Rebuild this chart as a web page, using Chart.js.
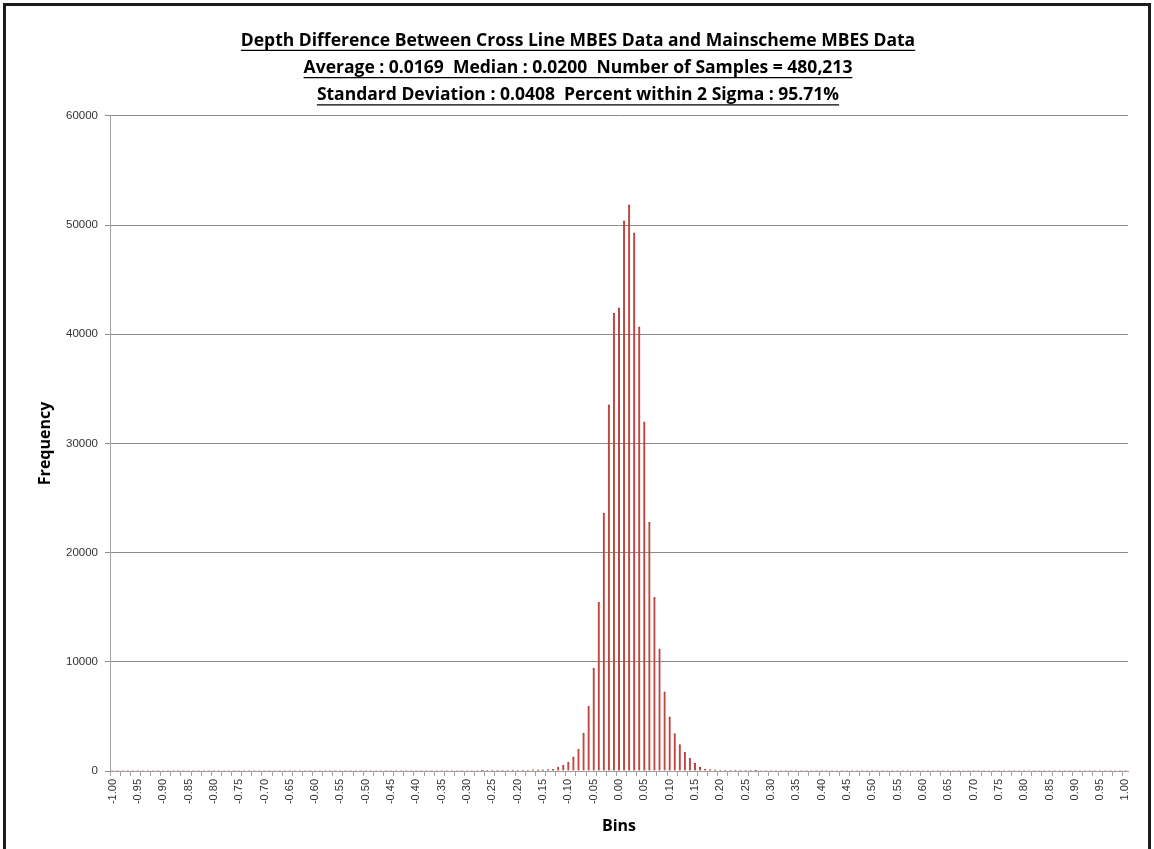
<!DOCTYPE html>
<html>
<head>
<meta charset="utf-8">
<script src="https://cdn.jsdelivr.net/npm/chart.js@4/dist/chart.umd.min.js"></script>
<style>
  html, body { margin: 0; padding: 0; background: #fff; overflow: hidden; }
  #wrap { position: absolute; left: 0; top: 0; width: 1154px; height: 849px; }
  #frame { position: absolute; left: 3px; top: 3px; width: 1142px; height: 900px;
           border: 3px solid #1c1c1c; pointer-events: none; }
</style>
</head>
<body>
<div id="wrap"><canvas id="histo" width="1154" height="849"></canvas></div>
<div id="frame"></div>
<script>
// title lines
var titleLines = [
    'Depth Difference Between Cross Line MBES Data and Mainscheme MBES Data',
    'Average : 0.0169  Median : 0.0200  Number of Samples = 480,213',
    'Standard Deviation : 0.0408  Percent within 2 Sigma : 95.71%'
];

// bins -1.00 .. 1.00, step 0.01
var bins = [];
for (var i = -100; i <= 100; i++) {
    bins.push((i / 100).toFixed(2));
}

// frequency per bin
var frequency = [
    0, 0, 0, 0, 0, 0, 0, 0, 0, 0, 0, 0, 0, 0, 0, 0, 0, 0, 0, 0,
    0, 0, 0, 0, 0, 0, 0, 0, 0, 0, 0, 0, 0, 0, 0, 0, 0, 0, 0, 0,
    0, 0, 0, 0, 0, 0, 0, 0, 0, 0, 0, 0, 0, 0, 0, 0, 0, 0, 0, 0,
    0, 0, 0, 0, 0, 0, 0, 0, 0, 0, 0, 0, 0,
    40, 60, 80, 70, 80, 70, 80, 90, 80, 90, 100, 110, 100, 120, 170,
    370, 550, 820, 1300, 2000, 3480, 5950, 9430, 15450, 23630, 33530, 41950,
    42410,
    50380, 51850, 49280, 40670, 31970, 22800, 15900, 11200, 7240, 4950, 3430,
    2420, 1700, 1150, 730, 370, 180, 120, 100, 90, 80, 90, 80, 70, 80, 60, 40,
    0, 0, 0, 0, 0, 0, 0, 0, 0, 0, 0, 0, 0, 0, 0, 0, 0, 0, 0, 0,
    0, 0, 0, 0, 0, 0, 0, 0, 0, 0, 0, 0, 0, 0, 0, 0, 0, 0, 0, 0,
    0, 0, 0, 0, 0, 0, 0, 0, 0, 0, 0, 0, 0, 0, 0, 0, 0, 0, 0, 0,
    0, 0, 0, 0, 0, 0, 0, 0, 0, 0, 0, 0, 0
];

var yTicks = [0, 10000, 20000, 30000, 40000, 50000, 60000];

var titleFont = { family: "'Open Sans', sans-serif", size: 17.5, weight: 'bold', lineHeight: 1.56 };

// draws the underline under every title line
var underline = {
    id: 'underline',
    afterDraw: function (chart) {
        var tb = chart.titleBlock;
        if (!tb) return;
        var ctx = chart.ctx;
        var lh = titleFont.size * titleFont.lineHeight;
        var cx = (tb.left + tb.right) / 2;
        ctx.save();
        ctx.font = 'bold ' + titleFont.size + 'px ' + titleFont.family;
        ctx.strokeStyle = '#000';
        ctx.lineWidth = 1.2;
        titleLines.forEach(function (t, k) {
            var w = ctx.measureText(t).width;
            var y = tb.top + tb.options.padding.top + lh / 2 + k * lh + titleFont.size * 0.55;
            ctx.beginPath();
            ctx.moveTo(cx - w / 2, y);
            ctx.lineTo(cx + w / 2, y);
            ctx.stroke();
        });
        ctx.restore();
    }
};

var crt = document.getElementById('histo').getContext('2d');
new Chart(crt, {
    type: 'bar',
    data: {
        labels: bins,
        datasets: [{
            data: frequency,
            backgroundColor: '#c0463f',
            borderColor: '#7d3c3a',
            borderWidth: { top: 1, left: 0, right: 0, bottom: 0 },
            borderSkipped: 'bottom',
            barThickness: 2
        }]
    },
    options: {
        responsive: false,
        animation: false,
        layout: { padding: { left: 14, right: 12, top: 0, bottom: 0 } },
        plugins: {
            legend: { display: false },
            tooltip: { enabled: false },
            title: {
                display: true,
                text: titleLines,
                color: '#000',
                font: titleFont,
                padding: { top: 27, bottom: 7 }
            }
        },
        scales: {
            x: {
                afterFit: function (s) { s.height = 78; },
                border: { color: '#a0a0a0' },
                grid: {
                    drawOnChartArea: false,
                    tickLength: 5,
                    tickColor: function (c) { return c.index % 2 === 0 ? '#a0a0a0' : 'rgba(0,0,0,0)'; }
                },
                ticks: {
                    autoSkip: false,
                    minRotation: 90,
                    maxRotation: 90,
                    padding: 3,
                    color: '#333',
                    font: { family: "'Liberation Sans', sans-serif", size: 11 },
                    callback: function (v, idx) { return idx % 5 === 0 ? bins[idx] : ''; }
                },
                title: {
                    display: true,
                    text: 'Bins',
                    color: '#000',
                    font: { family: "'Open Sans', sans-serif", size: 16, weight: 'bold', lineHeight: 1.2 },
                    padding: { top: 0, bottom: 13 }
                }
            },
            y: {
                min: 0,
                max: 60000,
                afterFit: function (s) { s.width = 96; },
                afterBuildTicks: function (s) { s.ticks = yTicks.map(function (v) { return { value: v }; }); },
                border: { color: '#a0a0a0' },
                grid: { color: '#8c8c8c', tickLength: 5, lineWidth: 1 },
                ticks: {
                    padding: 7,
                    color: '#333',
                    font: { family: "'Liberation Sans', sans-serif", size: 11.5 },
                    callback: function (v) { return String(v); }
                },
                title: {
                    display: true,
                    text: 'Frequency',
                    color: '#000',
                    font: { family: "'Open Sans', sans-serif", size: 16, weight: 'bold', lineHeight: 1.2 },
                    padding: { top: 22, bottom: 0 }
                }
            },
            // empty spacer on the right so the title stays centred on the page
            yRight: {
                position: 'right',
                afterFit: function (s) { s.width = 14; },
                grid: { display: false, drawOnChartArea: false },
                border: { display: false },
                ticks: { display: false }
            }
        }
    },
    plugins: [underline]
});
</script>
</body>
</html>
